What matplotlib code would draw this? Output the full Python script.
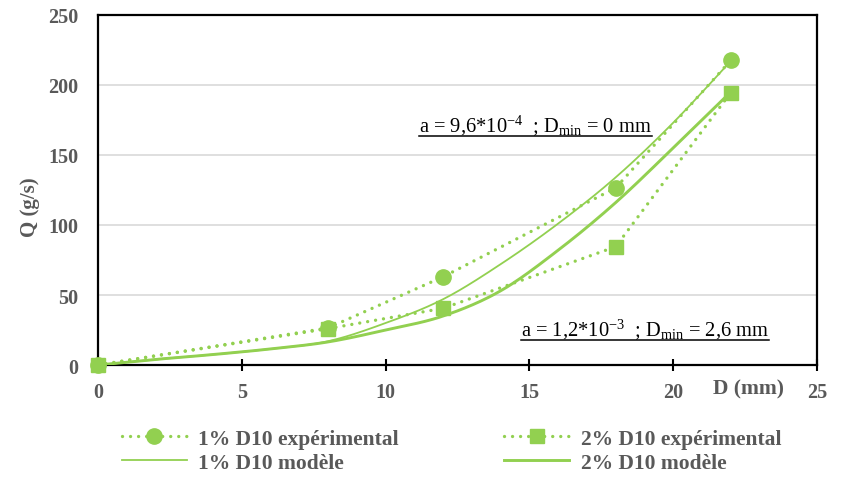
import numpy as np
import matplotlib
matplotlib.use("Agg")
import matplotlib.pyplot as plt
from matplotlib.lines import Line2D

plt.rcParams['font.family'] = ['Liberation Serif', 'DejaVu Serif']
plt.rcParams['mathtext.fontset'] = 'custom'
plt.rcParams['mathtext.rm'] = 'Liberation Serif'
plt.rcParams['mathtext.it'] = 'Liberation Serif:italic'
plt.rcParams['mathtext.bf'] = 'Liberation Serif:bold'

# data
d_exp = [0, 8, 12, 18, 22]
q_exp_1 = [0, 26.5, 63, 126.5, 217.5]
q_exp_2 = [0, 26, 40.5, 84.5, 194.5]

# model curves, read at several diameters
d_mod = [0, 2, 4, 6, 8, 10, 12, 14, 16, 18, 20, 22]
q_mod_1 = [0, 4, 7.5, 11.5, 17, 30, 47, 72, 101, 134, 173, 217]
q_mod_2 = [0, 4, 7.5, 11.5, 16.5, 25, 35, 53, 82, 116, 155, 195]

x_ticks = [0, 5, 10, 15, 20, 25]
y_ticks = [0, 50, 100, 150, 200, 250]

GREEN = '#92D050'
GREY = '#595959'


def smooth(xs, ys, n=30):
    """Excel-like smoothed line: cubic bezier through the points."""
    p = np.column_stack([xs, ys]).astype(float)
    pts = [p[0]]
    for i in range(len(p) - 1):
        p0 = p[max(i - 1, 0)]
        p1, p2 = p[i], p[i + 1]
        p3 = p[min(i + 2, len(p) - 1)]
        c1 = p1 + (p2 - p0) / 6
        c2 = p2 - (p3 - p1) / 6
        t = np.linspace(0, 1, n)[1:, None]
        seg = ((1 - t) ** 3 * p1 + 3 * (1 - t) ** 2 * t * c1
               + 3 * (1 - t) * t ** 2 * c2 + t ** 3 * p2)
        pts.extend(seg)
    pts = np.array(pts)
    return pts[:, 0], pts[:, 1]


fig = plt.figure(figsize=(8.41, 4.81), dpi=100)
ax = fig.add_axes([0.1165, 0.239, 0.855, 0.728])

ax.set_xlim(0, 25)
ax.set_ylim(0, 250)
ax.grid(axis='y', color='#D9D9D9', lw=1.2)
ax.set_axisbelow(True)

dots = (0, (0.01, 2.4))
l1, = ax.plot(d_exp, q_exp_1, color=GREEN, lw=2.4, ls=dots,
              dash_capstyle='round', marker='o', ms=11, clip_on=False,
              zorder=4)
l2, = ax.plot(d_exp, q_exp_2, color=GREEN, lw=2.4, ls=dots,
              dash_capstyle='round', marker='s', ms=10, clip_on=False,
              zorder=4)
m1, = ax.plot(*smooth(d_mod, q_mod_1), color=GREEN, lw=1.3, zorder=3)
m2, = ax.plot(*smooth(d_mod, q_mod_2), color=GREEN, lw=2.1, zorder=3)

ax.set_yticks(y_ticks)
ax.set_xticks(x_ticks)
ax.tick_params(axis='y', length=0, pad=14, labelsize=14.5, labelcolor=GREY)
ax.tick_params(axis='x', direction='inout', length=8, width=1.5, pad=8,
               labelsize=14.5, labelcolor=GREY)
for lab in ax.get_xticklabels() + ax.get_yticklabels():
    lab.set_fontweight('bold')
for sp in ax.spines.values():
    sp.set_linewidth(1.6)
    sp.set_color('black')

ax.set_ylabel('Q (g/s)', fontsize=15, fontweight='bold', color=GREY)
ax.yaxis.set_label_coords(-0.081, 0.454)
ax.text(22.6, -17, 'D (mm)', fontsize=15.5, fontweight='bold', color=GREY,
        ha='center', va='center')

t1 = ax.text(11.15, 172, r'a = 9,6*10$^{\mathregular{-4}}$  ; D$_{\mathregular{min}}$ = 0 mm',
             fontsize=14.8, color='black', va='center')
t2 = ax.text(14.7, 25.7, r'a = 1,2*10$^{\mathregular{-3}}$  ; D$_{\mathregular{min}}$ = 2,6 mm',
             fontsize=14.8, color='black', va='center')

leg = fig.legend([l1, m1, l2, m2],
                 ['1% D10 expérimental', '1% D10 modèle',
                  '2% D10 expérimental', '2% D10 modèle'],
                 ncol=2, loc='center left', bbox_to_anchor=(0.145, 0.061),
                 borderaxespad=0, borderpad=0,
                 frameon=False, handlelength=3.0, columnspacing=4.9,
                 labelspacing=0.2, handletextpad=0.55,
                 prop={'size': 15.5, 'weight': 'bold'})
for txt in leg.get_texts():
    txt.set_color(GREY)

# underline the two annotations
fig.canvas.draw()
renderer = fig.canvas.get_renderer()
inv = fig.transFigure.inverted()
for t in (t1, t2):
    bb = t.get_window_extent(renderer)
    (x0, y0), (x1, _) = inv.transform([(bb.x0, bb.y0 + 1), (bb.x1, bb.y0)])
    fig.add_artist(Line2D([x0, x1], [y0, y0], color='black', lw=1.1,
                          transform=fig.transFigure))

fig.savefig('out.png', dpi=100)
